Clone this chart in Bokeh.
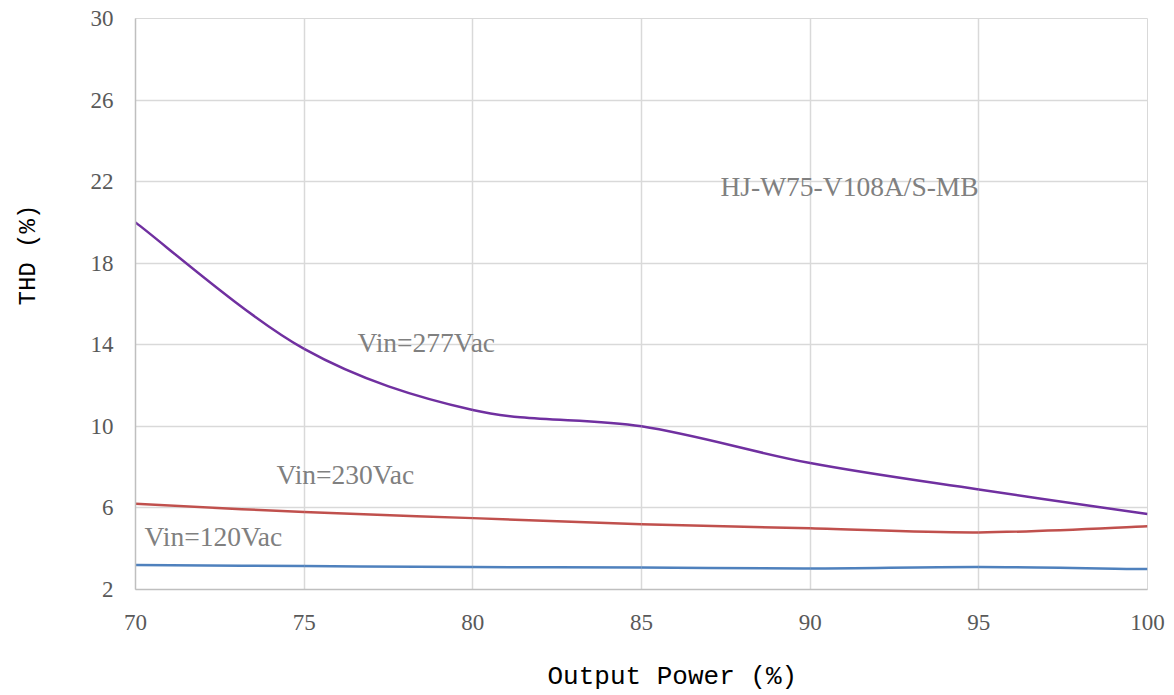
from bokeh.plotting import figure
from bokeh.models import Range1d, FixedTicker, Label, Title
from bokeh.embed import file_html
from bokeh.resources import INLINE

# Data
output_power = [70, 75, 80, 85, 90, 95, 100]
thd_277 = [20.0, 13.8, 10.8, 10.0, 8.2, 6.9, 5.7]
thd_230 = [6.2, 5.8, 5.5, 5.2, 5.0, 4.8, 5.1]
thd_120 = [3.2, 3.15, 3.1, 3.08, 3.03, 3.1, 3.0]
x_ticks = [70, 75, 80, 85, 90, 95, 100]
y_ticks = [2, 6, 10, 14, 18, 22, 26, 30]
x_title = "Output Power (%)"
y_title = "THD (%)"

series = [
    ("Vin=277Vac", thd_277, "#7030A0"),
    ("Vin=230Vac", thd_230, "#C0504D"),
    ("Vin=120Vac", thd_120, "#4F81BD"),
]

p = figure(width=1174, height=695, output_backend="svg", toolbar_location=None,
           x_range=Range1d(70, 100), y_range=Range1d(2, 30),
           min_border_left=135, min_border_right=27, min_border_top=18, min_border_bottom=106)
p.outline_line_color = "#D9D9D9"
p.background_fill_color = "white"

def smooth(xs, ys):
    n = len(xs)
    x0, y0, x1, y1, cx0, cy0, cx1, cy1 = [], [], [], [], [], [], [], []
    for i in range(n - 1):
        xp, yp = (xs[i - 1], ys[i - 1]) if i > 0 else (xs[i], ys[i])
        xn, yn = (xs[i + 2], ys[i + 2]) if i + 2 < n else (xs[i + 1], ys[i + 1])
        x0.append(xs[i]); y0.append(ys[i]); x1.append(xs[i + 1]); y1.append(ys[i + 1])
        cx0.append(xs[i] + (xs[i + 1] - xp) / 6); cy0.append(ys[i] + (ys[i + 1] - yp) / 6)
        cx1.append(xs[i + 1] - (xn - xs[i]) / 6); cy1.append(ys[i + 1] - (yn - ys[i]) / 6)
    return dict(x0=x0, y0=y0, x1=x1, y1=y1, cx0=cx0, cy0=cy0, cx1=cx1, cy1=cy1)

for name, ys, color in series:
    d = smooth(output_power, ys)
    p.bezier(x0=d["x0"], y0=d["y0"], x1=d["x1"], y1=d["y1"],
             cx0=d["cx0"], cy0=d["cy0"], cx1=d["cx1"], cy1=d["cy1"],
             line_color=color, line_width=2.5)

# axes
for ax in (p.xaxis[0], p.yaxis[0]):
    ax.major_tick_line_color = None
    ax.minor_tick_line_color = None
    ax.axis_line_color = "#BFBFBF"
    ax.axis_line_width = 1.5
    ax.major_label_text_font = "Liberation Serif"
    ax.major_label_text_font_size = "23px"
    ax.major_label_text_color = "#595959"
    # blank spacer label only to reserve room before the titles
    ax.axis_label = " "
    ax.axis_label_text_font_size = "1px"

p.xaxis.ticker = FixedTicker(ticks=x_ticks)
p.yaxis.ticker = FixedTicker(ticks=y_ticks)
p.xaxis.major_label_standoff = 19
p.yaxis.major_label_standoff = 16
p.xaxis.axis_label_standoff = 23
p.yaxis.axis_label_standoff = 42

p.xgrid.ticker = FixedTicker(ticks=x_ticks)
p.ygrid.ticker = FixedTicker(ticks=y_ticks)
p.xgrid.grid_line_color = "#D9D9D9"
p.ygrid.grid_line_color = "#D9D9D9"
p.xgrid.grid_line_width = 1.5
p.ygrid.grid_line_width = 1.5

# axis titles (off-centre in the reference, so placed as titles with an offset)
p.add_layout(Title(text=x_title, align="left", offset=412, standoff=0,
                   text_font="Liberation Mono", text_font_size="26px",
                   text_font_style="normal", text_color="#000000"), "below")
p.add_layout(Title(text=y_title, align="left", offset=284, standoff=0,
                   text_font="Liberation Mono", text_font_size="24px",
                   text_font_style="normal", text_color="#000000"), "left")

labels = [
    ("HJ-W75-V108A/S-MB", 87.34, 21.76),
    ("Vin=277Vac", 76.58, 14.11),
    ("Vin=230Vac", 74.18, 7.64),
    ("Vin=120Vac", 70.27, 4.6),
]
for txt, lx, ly in labels:
    p.add_layout(Label(x=lx, y=ly, text=txt, text_font="Liberation Serif",
                       text_font_size="27.5px", text_color="#808080",
                       text_baseline="middle", text_align="left"))

open("out.html", "w").write(file_html(p, INLINE))
